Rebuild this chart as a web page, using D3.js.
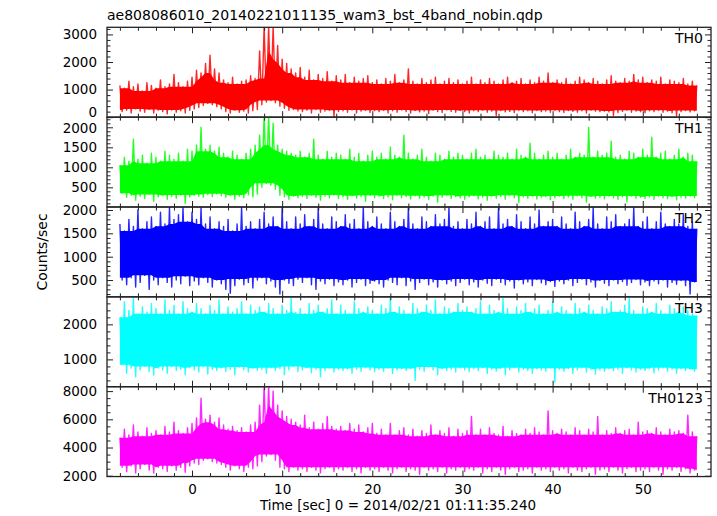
<!DOCTYPE html>
<html><head><meta charset="utf-8">
<script src="https://cdn.jsdelivr.net/npm/d3@7"></script>
<style>body{margin:0;background:#fff} text{font-family:"DejaVu Sans",sans-serif;fill:#000}</style>
</head><body><svg id="c" width="717" height="516"></svg>
<script>
const titleText = "ae808086010_20140221011135_wam3_bst_4band_nobin.qdp";
const xLabelText = "Time [sec] 0 = 2014/02/21 01:11:35.240";
const yLabelText = "Counts/sec";
const panelNames = ["TH0", "TH1", "TH2", "TH3", "TH0123"];
const panelColors = ["#ff0000", "#00ff00", "#0000ff", "#00ffff", "#ff00ff"];
const tStart = -8, tStep = 0.5;
const xMajorTicks = [0, 10, 20, 30, 40, 50];
const yMajorTicks = [[0,1000,2000,3000],[500,1000,1500,2000],[500,1000,1500,2000],[1000,2000],[2000,4000,6000,8000]];
const yMinorStep = [200, 100, 100, 200, 500];
const yDomains = [[0,3258],[8,2254],[140,2064],[220,2786],[1943,8312]];

// per 0.5 s bin: upper / lower extremes
const th0Hi = [1150,1050,1300,1100,1200,950,1250,1150,1050,1350,1100,1200,1550,1250,1100,1300,
 1450,1700,1600,1950,2250,1750,1600,
 1350,1250,1450,1200,1300,1350,1500,1400,
 2400,3300,3300,3300,2600,2100,1950,1750,1600,
 1800,1450,1700,1350,1550,1400,1650,1300,1500,
 1350,1550,1250,1450,1300,1400,1500,1250,
 1350,1200,1400,1300,1550,1250,1350,1750,1300,1200,1400,1250,1350,1450,1200,1300,1400,1250,1350,1200,
 1300,1450,1200,1350,1250,1400,1300,1200,1350,1450,1250,1300,1400,1200,1350,1250,1450,1300,1600,1250,
 1350,1250,1400,1200,1300,1450,1350,1250,1400,1300,1200,1350,1500,1300,1250,1400,1300,1550,1350,1450,
 1250,1350,1300,1450,1200,1350,1300,1250,1400,1200,1300,1150];
const th0Lo = [200,250,150,300,220,180,280,150,250,200,120,260,180,230,150,250,
 300,350,420,500,450,380,300,
 200,150,250,180,220,150,230,280,
 450,550,600,520,400,320,250,280,220,
 200,250,150,280,180,220,250,20,200,
 230,180,260,150,220,250,170,240,
 200,250,150,230,180,260,200,150,240,190,220,130,250,200,170,260,210,180,240,200,
 150,230,200,250,180,220,60,240,190,210,170,250,200,230,160,240,200,220,180,250,
 200,170,240,210,180,230,150,250,220,200,220,190,60,170,210,250,180,220,200,160,
 230,200,250,180,220,160,40,200,240,190,230];

const th1Hi = [1050,1250,1150,1700,1200,1300,1100,1350,1250,1150,1400,1300,1200,1350,1150,1450,
 1400,1550,2000,1450,1550,1400,1500,
 1350,1250,1400,1300,1200,1350,1450,1550,
 1800,2300,2300,2100,1550,1450,1400,1350,1300,
 1400,1250,1350,1700,1300,1200,1400,1250,1350,
 1300,1200,1450,1250,1350,1150,1300,1400,
 1250,1350,1200,1500,1300,1250,1800,1350,1200,1300,1450,1250,1150,1350,1300,1200,1400,1250,1350,1300,
 1200,1350,1450,1250,1300,1200,1400,1300,1250,1350,1200,1450,1300,1250,1600,1350,1200,1300,1400,1250,
 1350,1200,1300,1450,1250,1350,1300,2000,1250,1400,1300,1350,1650,1250,1300,1200,1400,1350,1250,1450,
 1300,1750,1250,1350,1400,1200,1300,1450,1250,1350,1300,1150];
const th1Lo = [350,250,300,180,280,220,320,150,260,300,200,270,230,310,100,260,
 300,280,250,320,270,340,290,
 250,300,200,280,240,310,260,330,
 500,600,550,450,300,260,200,280,240,
 270,220,300,250,180,280,240,310,220,
 260,200,290,230,270,150,300,240,
 280,220,260,190,300,240,270,210,290,230,260,200,280,130,250,300,220,270,240,200,
 260,290,210,250,180,280,230,270,200,300,240,120,260,230,280,210,250,270,190,240,
 280,220,260,200,290,240,130,270,230,250,210,280,240,200,260,140,280,230,250,220,
 260,200,280,240,220,270,190,250,230,280,240];

const th2Hi = [1700,1550,1800,1650,2000,1600,1750,1850,1650,1950,1700,2050,1800,1900,2050,1750,
 1950,1800,2050,1700,1850,1600,1750,
 1650,1800,1550,1700,2050,1650,1750,1600,
 1800,1950,1700,1850,1650,2050,1750,1600,1850,
 1700,1900,1650,1800,2050,1700,1600,1850,1750,
 1650,1900,1700,1800,1600,2050,1750,1650,
 1850,1700,1600,1950,1750,1650,1800,2050,1700,1600,1850,1750,1650,1900,1700,1800,2050,1650,1750,1600,
 1800,1700,1950,1650,1750,1850,1600,2050,1700,1800,1650,1900,1750,1600,1850,1700,2000,1650,1750,1800,
 1650,1850,1700,1600,1950,1750,1650,1800,2050,1700,1600,1850,1750,1900,1650,1700,1800,2050,1650,1750,
 1850,1600,1750,1950,1700,1650,1800,1700,1900,1650,1750,1600];
const th2Lo = [500,400,550,350,450,600,300,500,400,550,450,350,500,420,580,380,
 480,400,550,450,350,500,420,
 300,220,380,520,400,450,330,500,
 550,420,480,350,200,500,430,380,520,
 450,550,400,300,480,420,520,380,460,
 400,500,350,450,520,380,430,480,
 420,350,500,450,400,550,380,480,300,450,520,400,460,350,500,420,480,380,450,520,
 400,460,350,500,430,380,520,450,400,480,330,500,420,460,380,510,440,400,470,360,
 480,420,500,380,450,520,400,460,350,490,430,380,500,420,470,390,450,510,400,460,
 380,480,420,500,350,450,410,490,380,200,460];

const th3Hi = [2200,2650,2400,2750,2300,2500,2350,2600,2450,2300,2700,2400,2550,2300,2650,2450,
 2350,2600,2450,2300,2550,2400,2700,
 2300,2500,2350,2450,2650,2300,2550,2400,
 2500,2350,2600,2450,2300,2550,2400,2750,2350,
 2450,2300,2600,2400,2550,2350,2450,2700,2300,
 2550,2400,2300,2650,2450,2350,2500,2400,
 2300,2550,2450,2750,2350,2500,2400,2300,2600,2450,2350,2550,2400,2700,2300,2500,2450,2350,2600,2400,
 2500,2350,2450,2650,2300,2550,2400,2350,2750,2450,2300,2500,2400,2600,2350,2450,2550,2300,2400,2650,
 2350,2500,2400,2300,2600,2450,2350,2550,2400,2300,2500,2450,2650,2350,2400,2550,2750,2400,2300,2500,
 2450,2350,2600,2400,2300,2550,2450,2350,2500,2400,2300,2250];
const th3Lo = [850,600,750,500,700,800,650,550,750,700,600,800,680,720,560,760,
 700,640,800,580,720,680,760,
 650,720,560,780,700,640,750,690,
 720,600,760,680,740,560,700,800,650,
 700,760,620,720,500,680,750,640,720,
 680,740,600,720,660,770,700,650,
 720,660,750,600,700,740,680,740,400,720,660,780,700,560,740,680,720,640,760,700,
 650,730,680,760,600,720,670,740,560,700,760,640,720,680,600,740,700,660,750,350,
 720,660,740,600,700,760,640,720,580,700,660,740,680,720,600,760,700,640,720,680,
 740,620,700,760,660,720,600,740,680,720,660];

const th0123Hi = [4700,5300,4900,5600,5100,4800,5400,5000,5200,4900,5500,5100,5800,5200,5000,5400,
 5700,6100,7500,6000,6300,5800,6100,
 5600,5300,5500,5200,5400,5100,5600,5800,
 7000,8400,8400,8000,7000,6600,6200,6000,5800,
 5600,6300,5400,5800,5300,5700,6200,5500,5300,
 5500,5200,5700,5300,5600,5100,5400,5700,
 5000,5300,4900,5700,4900,5200,5400,4900,5300,4800,5200,5000,5600,4900,5200,5000,5400,4800,5300,5000,
 5200,6200,4900,5300,4900,5400,5000,4900,5500,4800,5200,5000,4900,5300,5000,5400,5100,4900,6600,5200,
 5000,5300,5100,4900,5400,5200,4900,5300,5100,6200,4900,5200,5000,5400,5000,5200,5300,4900,5800,5100,
 5200,5000,5400,5100,4900,5300,5100,5200,5000,6300,5100,4800];
const th0123Lo = [2600,2300,2700,2200,2500,2800,2400,2200,2600,2500,2300,2700,2400,2600,2250,2700,
 2900,2800,3100,3200,3000,2900,2800,
 2600,2400,2700,2500,2300,2600,2500,2700,
 3000,3400,3500,3100,2600,2500,2300,2600,2400,
 2500,2300,2600,2400,2200,2500,2600,2300,2500,
 2400,2600,2300,2500,2200,2600,2400,2500,
 2300,2600,2400,2200,2500,2600,2300,2500,2400,2100,2600,2400,2500,2300,2600,2200,2500,2400,2600,2300,
 2500,2400,2600,2200,2500,2300,2600,2400,2100,2500,2600,2300,2400,2500,2200,2600,2400,2500,2300,2600,
 2400,2500,2200,2600,2400,2300,2500,2600,2100,2400,2500,2300,2600,2400,2200,2500,2600,2300,2400,2500,
 2300,2600,2400,2100,2500,2400,2600,2300,2500,2200,2400];

const seriesHi = [th0Hi, th1Hi, th2Hi, th3Hi, th0123Hi];
const seriesLo = [th0Lo, th1Lo, th2Lo, th3Lo, th0123Lo];

const L = 107, R = 711, T = 27.3, PH = 89.85;
const svg = d3.select("#c");
const x = d3.scaleLinear().domain([-9.43, 57.57]).range([L, R]);
const xMinor = d3.range(-8, 57, 2).filter(v => v % 10 !== 0);
const MAJ = 6, MIN = 3.5;

svg.append("text").attr("x", L).attr("y", 20).style("font-size", "14px").text(titleText);

panelNames.forEach((name, k) => {
  const top = T + k * PH, bot = top + PH;
  const y = d3.scaleLinear().domain(yDomains[k]).range([bot, top]);
  const cid = "clip" + k;
  svg.append("clipPath").attr("id", cid).append("rect")
    .attr("x", L).attr("y", top).attr("width", R - L).attr("height", PH);

  const hi = seriesHi[k], lo = seriesLo[k];
  const core = hi.map((h, i) => {
    const hs = hi.slice(Math.max(0, i - 2), i + 3);
    const ls = lo.slice(Math.max(0, i - 2), i + 3);
    return { t: tStart + i * tStep, top: d3.min(hs), bot: d3.max(ls) };
  });
  svg.append("path")
    .attr("clip-path", `url(#${cid})`)
    .attr("d", d3.area().x(d => x(d.t)).y0(d => y(d.bot)).y1(d => y(d.top))(core))
    .attr("fill", panelColors[k]).attr("stroke", "none");

  const pts = [];
  hi.forEach((h, i) => {
    const t = tStart + i * tStep;
    pts.push([t, h]);
    if (i < lo.length) pts.push([t + tStep / 2, lo[i]]);
  });
  svg.append("path")
    .attr("clip-path", `url(#${cid})`)
    .attr("d", d3.line().x(d => x(d[0])).y(d => y(d[1]))(pts))
    .attr("fill", "none").attr("stroke", panelColors[k])
    .attr("stroke-width", 1.4).attr("stroke-linejoin", "round").attr("stroke-opacity", 0.85);

  const [d0, d1] = yDomains[k];
  const yMin = d3.range(Math.ceil(d0 / yMinorStep[k]) * yMinorStep[k], d1, yMinorStep[k])
    .filter(v => !yMajorTicks[k].includes(v) && (yMinorStep[k] === 500 || v % 500 !== 0));

  const addAxis = (axis, tx, ty) => {
    const g = svg.append("g").attr("transform", `translate(${tx},${ty})`).call(axis);
    g.select(".domain").remove();
    g.selectAll("line").attr("stroke", "#222");
    g.selectAll("text").style("font-size", "13.5px").style("font-family", '"DejaVu Sans",sans-serif').attr("fill", "#000");
    return g;
  };
  const gl = addAxis(d3.axisLeft(y).tickValues(yMajorTicks[k]).tickSize(-MAJ).tickPadding(10).tickFormat(d3.format("d")), L, 0);
  if (k === 0) gl.selectAll(".tick text").filter(d => d === 0).attr("y", -4.5);
  if (k === 1) gl.selectAll(".tick text").filter(d => d === 2000).attr("y", 1);
  addAxis(d3.axisLeft(y).tickValues(yMin).tickSize(-MIN).tickFormat(""), L, 0);
  addAxis(d3.axisRight(y).tickValues(yMajorTicks[k]).tickSize(-MAJ).tickFormat(""), R, 0);
  addAxis(d3.axisRight(y).tickValues(yMin).tickSize(-MIN).tickFormat(""), R, 0);
  addAxis(d3.axisTop(x).tickValues(xMajorTicks).tickSize(-MAJ).tickFormat(""), 0, top);
  addAxis(d3.axisTop(x).tickValues(xMinor).tickSize(-MIN).tickFormat(""), 0, top);
  const last = k === panelNames.length - 1;
  addAxis(d3.axisBottom(x).tickValues(xMajorTicks).tickSize(-MAJ).tickPadding(8)
    .tickFormat(last ? d3.format("d") : ""), 0, bot);
  addAxis(d3.axisBottom(x).tickValues(xMinor).tickSize(-MIN).tickFormat(""), 0, bot);

  svg.append("rect").attr("x", L).attr("y", top).attr("width", R - L).attr("height", PH)
    .attr("fill", "none").attr("stroke", "#222").attr("stroke-width", 1.3);

  svg.append("text").attr("x", 703).attr("y", top + 16).attr("text-anchor", "end")
    .style("font-size", "14px").text(name);
});

svg.append("text").attr("x", 398).attr("y", 510).attr("text-anchor", "middle")
  .style("font-size", "13.5px").text(xLabelText);
svg.append("text").attr("transform", `translate(47,${T + 2.5 * PH}) rotate(-90)`)
  .attr("text-anchor", "middle").style("font-size", "14px").text(yLabelText);
</script></body></html>
